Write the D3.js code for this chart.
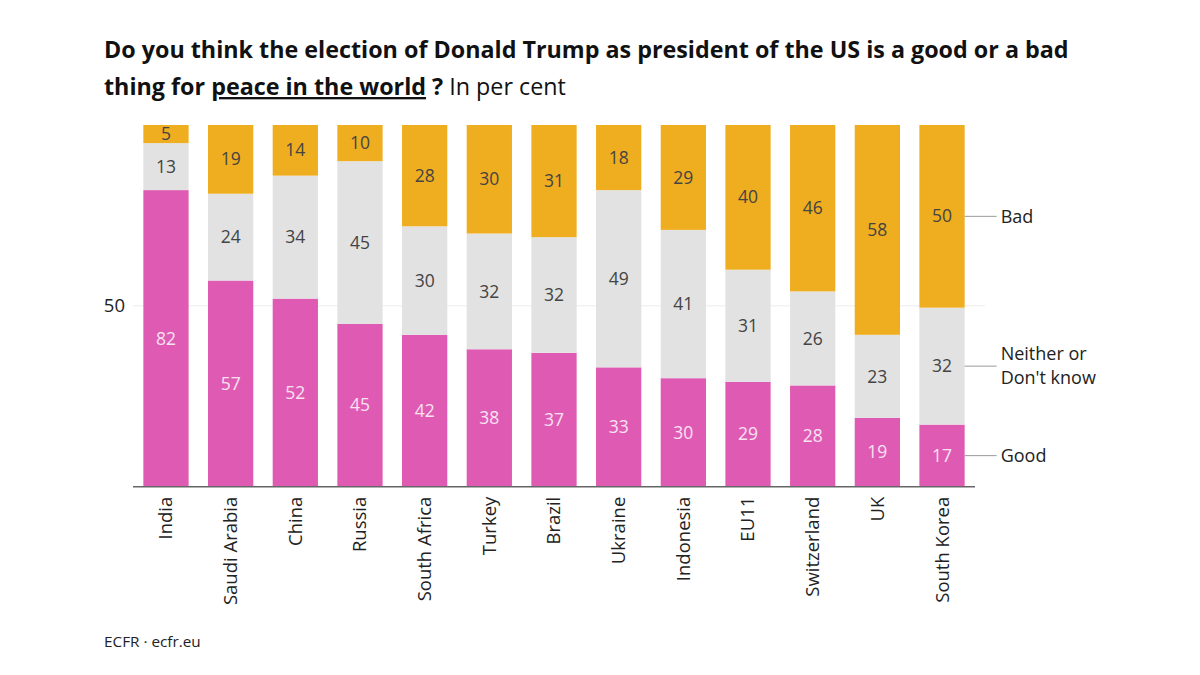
<!DOCTYPE html>
<html><head><meta charset="utf-8">
<script src="https://cdn.jsdelivr.net/npm/d3@7"></script>
<style>
body{margin:0;background:#fff;}
svg{display:block;font-family:"Open Sans",sans-serif;}
</style></head>
<body><svg id="c" width="1200" height="675"></svg>
<script>
const categories = ["India","Saudi Arabia","China","Russia","South Africa","Turkey","Brazil","Ukraine","Indonesia","EU11","Switzerland","UK","South Korea"];
const good    = [82,57,52,45,42,38,37,33,30,29,28,19,17];
const neither = [13,24,34,45,30,32,32,49,41,31,26,23,32];
const bad     = [5,19,14,10,28,30,31,18,29,40,46,58,50];
const seriesKeys = ["good","neither","bad"];
const seriesLabels = {good:["Good"], neither:["Neither or","Don't know"], bad:["Bad"]};
const yTicks = [0.5];
const yTickLabels = ["50"];

const colors = {good:"#df5bb3", neither:"#e2e2e2", bad:"#efad20"};
const labelColors = {good:"#f8e2f2", neither:"#444", bad:"#444"};

const svg = d3.select("#c");
const rows = categories.map((c,i)=>({cat:c, good:good[i], neither:neither[i], bad:bad[i]}));
const stack = d3.stack().keys(seriesKeys).offset(d3.stackOffsetExpand);
const series = stack(rows);

const x = d3.scaleBand().domain(categories).range([133,975]).paddingInner(0.3).paddingOuter(0.16);
const y = d3.scaleLinear().domain([0,1]).range([486.7,125]);

// title
const title = svg.append("text").attr("x",104).attr("y",58)
  .style("font-size","23.3px").style("font-weight","700").attr("fill","#111");
title.text("Do you think the election of Donald Trump as president of the US is a good or a bad");
const t2 = svg.append("text").attr("x",104).attr("y",95).style("font-size","23.3px").attr("fill","#111");
t2.append("tspan").style("font-weight","700").text("thing for ");
t2.append("tspan").style("font-weight","700").style("text-decoration","underline").text("peace in the world");
t2.append("tspan").style("font-weight","700").text(" ?");
t2.append("tspan").style("font-weight","400").text(" In per cent");

// gridline at 50
svg.append("g").selectAll("line").data(yTicks).join("line")
  .attr("x1",133).attr("x2",985).attr("y1",d=>y(d)).attr("y2",d=>y(d))
  .attr("stroke","#ececec").attr("stroke-width",1);

// y axis labels
const yAxis = d3.axisLeft(y).tickValues(yTicks).tickFormat((d,i)=>yTickLabels[i]).tickSize(0).tickPadding(8);
const yg = svg.append("g").attr("transform","translate(133,0)").call(yAxis);
yg.select(".domain").remove();
yg.selectAll("text").style("font-size","18.5px").attr("fill","#222").style("font-family","'Open Sans',sans-serif");

// bars
const g = svg.append("g");
series.forEach(s=>{
  const k = s.key;
  g.append("g").selectAll("rect").data(s).join("rect")
    .attr("x",d=>x(d.data.cat)).attr("width",x.bandwidth())
    .attr("y",d=>y(d[1])).attr("height",d=>y(d[0])-y(d[1]))
    .attr("fill",colors[k]);
  g.append("g").selectAll("text").data(s).join("text")
    .attr("x",d=>x(d.data.cat)+x.bandwidth()/2)
    .attr("y",d=>y((d[0]+d[1])/2))
    .attr("dy","0.35em").attr("text-anchor","middle")
    .style("font-size","17.5px").attr("fill",labelColors[k])
    .text(d=>d.data[k]);
});

// x axis
const xAxis = d3.axisBottom(x).tickSize(0).tickPadding(0);
const xg = svg.append("g").attr("transform",`translate(0,${y(0)})`).call(xAxis);
xg.select(".domain").remove();
xg.selectAll("text").attr("transform","rotate(-90)")
  .attr("x",-10).attr("y",0).attr("dy","0.35em").attr("text-anchor","end")
  .style("font-size","18.5px").attr("fill","#222").style("font-family","'Open Sans',sans-serif");
svg.append("line").attr("x1",133).attr("x2",975).attr("y1",y(0)).attr("y2",y(0))
  .attr("stroke","#666").attr("stroke-width",1.5);

// legend at last bar
const last = categories[categories.length-1];
const lx = x(last)+x.bandwidth();
series.forEach(s=>{
  const d = s[s.length-1];
  const ym = y((d[0]+d[1])/2);
  svg.append("line").attr("x1",lx).attr("x2",lx+32).attr("y1",ym).attr("y2",ym)
    .attr("stroke","#999").attr("stroke-width",1);
  const lines = seriesLabels[s.key];
  const t = svg.append("text").attr("x",lx+36).style("font-size","18px").attr("fill","#222");
  lines.forEach((ln,i)=>{
    t.append("tspan").attr("x",lx+36).attr("y",ym + (i-(lines.length-1)/2)*24).attr("dy","0.35em").text(ln);
  });
});

// source
svg.append("text").attr("x",104).attr("y",647).style("font-size","15.3px").attr("fill","#222").text("ECFR · ecfr.eu");
</script></body></html>
